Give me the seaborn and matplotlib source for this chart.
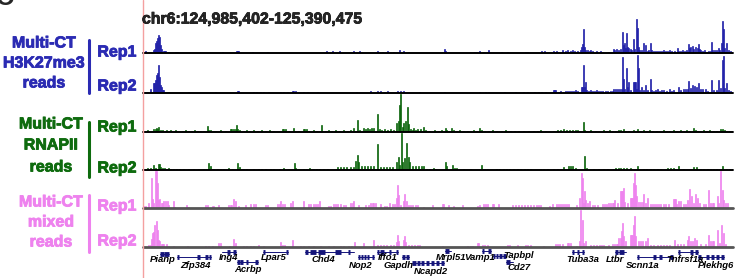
import numpy as np
import pandas as pd
import matplotlib.pyplot as plt
import matplotlib.patheffects as pe
import seaborn as sns

sns.set_style("white")
plt.rcParams['font.family'] = ['Liberation Sans', 'DejaVu Sans']

# genomic window, split into 590 coverage bins
CHROM = "chr6"
START = 124985402
END = 125390475
NBINS = 590
BIN = (END - START) / NBINS

# coverage tracks: bin index -> signal
h3_rep1_pos = [0, 2, 7, 10, 11, 12, 13, 14, 15, 16, 17, 18, 20, 21, 22, 24, 25, 32, 33, 34,
               79, 93, 94, 95, 109, 124, 183, 189, 196, 210, 216, 218, 234, 239, 244, 250, 256, 260, 265,
               301, 302, 331, 333, 336, 340, 345, 358, 364, 382, 384, 398, 401, 410, 412, 413, 419, 422,
               424, 427, 429, 431, 434, 437, 438, 439, 440, 441, 442, 444, 446, 447, 449, 453, 457, 459,
               465, 470, 471, 473, 475, 477, 479, 480, 481, 482, 483, 484, 485, 487, 488, 490, 491, 493,
               494, 495, 496, 498, 500, 502, 504, 505, 507, 508, 510, 512, 514, 516, 518, 520, 522, 524,
               526, 528, 531, 534, 535, 537, 539, 541, 543, 545, 546, 547, 549, 550, 552, 554, 555, 556,
               557, 559, 561, 563, 565, 567, 568, 569, 571, 573, 575, 576, 578, 579, 580, 581, 583, 585,
               587, 589]
h3_rep1_val = [1, 2, 1, 3, 4, 10, 12, 15, 18, 16, 8, 4, 2, 2, 2, 1, 1, 1, 1, 1,
               1, 2, 2, 2, 1, 1, 2, 2, 2, 2, 2, 1, 2, 1, 2, 1, 3, 2, 1,
               4, 2, 1, 1, 2, 1, 3, 1, 1, 1, 1, 2, 2, 2, 1, 2, 3, 2,
               3, 2, 3, 2, 2, 3, 6, 9, 24, 6, 3, 3, 2, 3, 2, 2, 2, 1,
               1, 4, 3, 4, 3, 4, 21, 8, 10, 5, 20, 6, 5, 4, 3, 14, 4, 34,
               25, 6, 3, 3, 10, 8, 2, 3, 10, 3, 2, 2, 2, 2, 2, 3, 2, 2,
               3, 2, 2, 5, 2, 2, 3, 2, 3, 9, 5, 6, 7, 4, 6, 5, 9, 4,
               3, 2, 3, 1, 2, 2, 11, 3, 3, 3, 5, 3, 10, 32, 24, 5, 10, 3,
               2, 1]

h3_rep2_pos = [0, 4, 7, 10, 11, 12, 13, 14, 15, 16, 17, 18, 19, 20, 22, 24, 25, 45, 72, 94, 95,
               110, 113, 117, 120, 125, 137, 140, 144, 149, 150, 152, 160, 164, 174, 213, 227, 234,
               237, 241, 244, 254, 257, 260, 276, 301, 336, 342, 345, 361, 372, 380, 384, 391, 395,
               398, 402, 410, 411, 412, 415, 417, 420, 422, 424, 426, 428, 430, 432, 434, 438, 439,
               440, 441, 442, 443, 445, 447, 449, 451, 453, 455, 457, 459, 462, 464, 467, 469, 470,
               472, 474, 476, 478, 479, 480, 481, 483, 484, 485, 487, 490, 491, 492, 493, 494, 495,
               496, 498, 500, 502, 504, 507, 508, 510, 512, 514, 516, 518, 520, 523, 526, 528, 530,
               535, 537, 540, 542, 544, 545, 547, 549, 551, 553, 555, 557, 559, 562, 564, 568, 570,
               573, 575, 577, 579, 580, 581, 583, 585, 587, 589]
h3_rep2_val = [1, 1, 4, 10, 10, 13, 18, 20, 28, 16, 8, 6, 3, 3, 1, 1, 1, 1, 1, 2, 2,
               1, 1, 1, 1, 1, 1, 1, 1, 2, 2, 2, 1, 1, 1, 1, 2, 2,
               2, 1, 2, 2, 2, 2, 1, 1, 1, 1, 1, 1, 1, 1, 1, 1, 1,
               1, 1, 3, 3, 3, 1, 2, 1, 2, 2, 2, 2, 2, 3, 2, 6, 6,
               28, 6, 11, 3, 2, 3, 2, 2, 3, 2, 2, 2, 2, 2, 2, 2, 4,
               4, 4, 4, 4, 36, 14, 4, 25, 6, 11, 3, 11, 11, 11, 4, 38, 25,
               3, 6, 3, 8, 3, 14, 3, 2, 3, 4, 2, 3, 3, 2, 4, 2, 3,
               6, 3, 4, 4, 4, 12, 5, 8, 7, 6, 10, 4, 4, 4, 2, 13, 3,
               3, 13, 5, 33, 37, 5, 10, 3, 2, 1]

pol_rep1_pos = [4, 8, 10, 12, 13, 14, 15, 17, 19, 21, 23, 25, 27, 32, 39, 42, 45, 48, 51, 54, 57,
                60, 64, 65, 67, 70, 72, 77, 82, 87, 88, 90, 92, 93, 94, 96, 100, 103, 106, 110, 114,
                118, 122, 126, 130, 139, 140, 142, 145, 150, 155, 160, 161, 163, 165, 170, 173, 178,
                182, 185, 188, 192, 196, 200, 204, 207, 210, 212, 214, 216, 220, 222, 224, 226, 228,
                230, 234, 236, 238, 241, 244, 247, 250, 253, 255, 256, 257, 259, 260, 262, 264, 265,
                267, 269, 270, 272, 274, 277, 280, 282, 286, 291, 295, 298, 302, 303, 305, 308, 310,
                313, 316, 320, 324, 327, 330, 333, 336, 338, 341, 345, 349, 353, 358, 362, 367, 371,
                375, 380, 385, 390, 394, 397, 402, 410, 414, 417, 420, 423, 426, 429, 432, 434, 437,
                440, 441, 443, 447, 452, 460, 463, 466, 469, 472, 475, 477, 480, 482, 485, 490, 494,
                497, 500, 503, 506, 509, 513, 520, 523, 526, 530, 533, 537, 540, 543, 546, 550, 552,
                554, 557, 560, 563, 566, 570, 573, 577, 579, 581, 583, 586, 588]
pol_rep1_val = [2, 1, 3, 3, 4, 3, 5, 2, 2, 1, 2, 1, 2, 2, 1, 2, 1, 1, 2, 1, 1,
                1, 6, 2, 2, 1, 1, 2, 1, 3, 3, 3, 3, 7, 3, 2, 1, 2, 1, 2, 1,
                2, 1, 2, 1, 3, 3, 3, 1, 4, 1, 3, 3, 3, 1, 2, 1, 7,
                1, 2, 1, 2, 1, 2, 1, 2, 4, 1, 12, 2, 4, 3, 4, 3, 4,
                4, 18, 3, 2, 3, 2, 3, 2, 9, 11, 27, 38, 5, 9, 11, 25, 8,
                3, 2, 4, 2, 3, 3, 5, 2, 1, 2, 1, 2, 4, 2, 1, 4, 2,
                1, 2, 1, 1, 1, 2, 1, 4, 2, 1, 1, 2, 1, 1, 2, 1, 1,
                1, 1, 1, 1, 1, 2, 1, 1, 2, 2, 3, 2, 2, 2, 2, 2, 1,
                10, 2, 1, 2, 1, 2, 1, 2, 1, 1, 2, 2, 3, 1, 1, 2, 3,
                1, 2, 1, 2, 1, 1, 2, 1, 1, 2, 1, 2, 1, 2, 1, 4, 2,
                1, 1, 2, 1, 2, 1, 1, 3, 3, 2, 1, 1, 1]

pol_rep2_pos = [4, 7, 10, 12, 15, 16, 17, 19, 21, 23, 25, 27, 30, 33, 36, 40, 45, 50, 55, 60, 65,
                67, 70, 74, 77, 80, 85, 89, 94, 96, 100, 103, 110, 115, 118, 122, 127, 130, 136, 140,
                145, 151, 152, 155, 160, 163, 166, 170, 173, 176, 180, 184, 194, 197, 200, 203, 207,
                210, 212, 214, 215, 218, 221, 224, 227, 230, 234, 237, 240, 243, 246, 249, 253, 255,
                256, 258, 259, 261, 263, 265, 266, 269, 272, 275, 278, 280, 283, 286, 290, 292, 302,
                303, 309, 311, 313, 320, 327, 338, 341, 344, 353, 356, 360, 363, 366, 370, 374, 377,
                381, 384, 387, 397, 400, 404, 410, 414, 417, 420, 425, 427, 429, 432, 441, 443, 450,
                455, 460, 464, 470, 472, 475, 477, 480, 483, 487, 494, 500, 503, 507, 510, 514, 517,
                524, 527, 530, 535, 540, 547, 550, 553, 557, 560, 564, 567, 570, 573, 579, 583, 586,
                589]
pol_rep2_val = [2, 2, 5, 2, 6, 6, 3, 2, 2, 1, 2, 1, 1, 1, 1, 1, 1, 1, 1, 1, 7,
                4, 1, 1, 1, 1, 2, 1, 7, 3, 1, 1, 1, 1, 1, 1, 1, 1, 1, 2,
                1, 7, 2, 1, 1, 1, 2, 1, 1, 1, 1, 1, 3, 3, 3, 3, 3,
                3, 9, 15, 8, 4, 4, 4, 4, 4, 26, 3, 3, 3, 3, 3, 8, 13,
                5, 37, 8, 12, 27, 13, 8, 4, 4, 4, 4, 4, 1, 1, 2, 1, 8,
                4, 5, 2, 2, 1, 1, 5, 1, 1, 1, 1, 1, 1, 1, 1, 1, 1,
                1, 1, 1, 1, 1, 1, 1, 1, 1, 3, 4, 4, 4, 2, 14, 2, 1,
                1, 1, 1, 1, 2, 2, 2, 2, 2, 2, 4, 1, 1, 1, 1, 1, 1,
                2, 2, 2, 4, 1, 1, 3, 3, 1, 1, 1, 1, 1, 1, 4, 1, 1,
                1]

mix_rep1_pos = [0, 2, 5, 8, 9, 10, 12, 13, 14, 15, 16, 18, 19, 20, 22, 24, 25, 30, 31, 43, 45, 62,
                64, 69, 70, 75, 85, 87, 88, 90, 92, 95, 102, 107, 110, 112, 122, 124, 134, 136, 137,
                139, 141, 147, 149, 160, 165, 167, 170, 172, 174, 176, 185, 187, 190, 192, 194, 197,
                200, 202, 207, 209, 210, 215, 222, 225, 227, 229, 230, 232, 237, 241, 243, 246, 249,
                251, 253, 254, 255, 257, 260, 261, 263, 265, 267, 269, 272, 274, 280, 289, 299, 300,
                305, 310, 319, 334, 336, 340, 342, 344, 349, 350, 355, 369, 372, 375, 378, 381, 384,
                387, 390, 393, 395, 397, 406, 409, 413, 415, 417, 419, 421, 423, 425, 433, 436, 438,
                439, 440, 441, 442, 444, 446, 449, 451, 454, 459, 461, 463, 465, 467, 469, 470, 471,
                474, 477, 478, 479, 480, 481, 484, 487, 488, 489, 490, 491, 492, 493, 495, 497, 499,
                500, 502, 504, 507, 509, 511, 513, 515, 517, 520, 522, 525, 530, 531, 532, 533, 535,
                537, 540, 542, 544, 546, 548, 550, 552, 554, 556, 560, 562, 565, 567, 569, 570, 574,
                575, 577, 579, 580, 582, 584]
mix_rep1_val = [2, 2, 5, 30, 9, 5, 37, 37, 25, 8, 9, 5, 5, 7, 7, 7, 3, 7, 1, 3, 1, 3,
                3, 2, 2, 3, 3, 3, 3, 9, 7, 2, 3, 4, 4, 4, 3, 3, 4, 4, 7,
                4, 4, 5, 7, 7, 4, 4, 4, 4, 4, 7, 2, 2, 4, 4, 4, 4,
                3, 3, 5, 5, 7, 3, 3, 3, 5, 5, 5, 5, 4, 2, 2, 5, 4,
                4, 10, 23, 13, 3, 7, 14, 7, 3, 3, 3, 3, 3, 1, 3, 4, 4,
                3, 2, 3, 2, 3, 4, 4, 4, 4, 4, 4, 3, 3, 3, 3, 3, 3,
                3, 3, 3, 3, 3, 2, 4, 4, 4, 4, 4, 4, 4, 4, 3, 10, 35,
                30, 5, 17, 8, 5, 7, 3, 3, 3, 4, 4, 4, 5, 5, 5, 5, 8,
                5, 17, 17, 17, 20, 6, 5, 10, 10, 10, 25, 35, 23, 12, 6, 6, 6,
                14, 5, 10, 4, 4, 4, 4, 4, 4, 4, 4, 4, 9, 9, 9, 4, 7,
                7, 4, 4, 8, 19, 12, 5, 14, 10, 5, 4, 4, 18, 5, 5, 5, 12,
                5, 37, 18, 8, 5, 5]

mix_rep2_pos = [0, 5, 7, 8, 9, 10, 11, 13, 14, 15, 16, 18, 19, 20, 23, 25, 30, 44, 62, 65, 69, 75,
                77, 86, 90, 92, 100, 103, 107, 110, 115, 120, 137, 139, 141, 149, 157, 160, 165, 170,
                177, 185, 190, 197, 200, 205, 208, 211, 220, 230, 234, 237, 240, 243, 247, 250, 253,
                254, 255, 260, 261, 262, 265, 268, 271, 274, 276, 299, 324, 327, 329, 334, 335, 339,
                341, 344, 364, 366, 374, 382, 384, 387, 400, 412, 414, 416, 419, 424, 425, 427, 433,
                436, 437, 439, 440, 442, 447, 450, 453, 456, 458, 460, 465, 469, 471, 473, 474, 475,
                477, 478, 479, 480, 482, 487, 488, 489, 490, 491, 492, 495, 497, 499, 502, 504, 507,
                510, 514, 517, 520, 523, 526, 531, 534, 537, 540, 544, 545, 547, 549, 551, 553, 557,
                562, 565, 567, 569, 570, 574, 576, 578, 580, 582]
mix_rep2_val = [1, 2, 2, 8, 14, 15, 22, 26, 17, 7, 6, 3, 3, 3, 3, 1, 1, 1, 1, 1, 1, 4,
                4, 1, 8, 4, 1, 1, 1, 1, 2, 1, 5, 2, 2, 7, 1, 1, 1, 1,
                1, 1, 1, 1, 1, 1, 1, 5, 4, 7, 2, 2, 2, 2, 2, 2, 5,
                12, 6, 7, 11, 5, 2, 2, 2, 2, 2, 1, 1, 1, 1, 4, 4, 2,
                2, 2, 2, 2, 2, 2, 2, 2, 1, 3, 3, 3, 3, 4, 4, 4, 1,
                6, 37, 27, 4, 6, 2, 2, 2, 2, 2, 2, 2, 3, 3, 3, 3, 9,
                9, 16, 24, 11, 6, 12, 12, 12, 22, 31, 11, 6, 6, 6, 6, 9, 2,
                2, 2, 2, 2, 2, 2, 7, 3, 3, 3, 7, 11, 6, 6, 9, 7, 3,
                3, 12, 6, 6, 6, 17, 4, 22, 14, 3]

# RefSeq genes (bin coordinates)
gene_names = ["Pianp", "Zfp384", "Ing4", "Acrbp", "Lpar5", "Chd4", "Nop2", "Iffo1", "Gapdh",
              "Ncapd2", "Mrpl51", "Vamp1", "Tapbpl", "Cd27", "Tuba3a", "Ltbr", "Scnn1a",
              "Tnfrsf1a", "Plekhg6"]
gene_start = [17, 34, 79, 94, 120, 162, 215, 234, 259, 269, 302, 339, 350, 363, 429, 472, 494, 535, 555]
gene_end = [25, 67, 92, 114, 144, 210, 230, 254, 265, 300, 307, 347, 362, 369, 440, 482, 529, 554, 580]
gene_exons = [[(17, 20), (21, 25)], [(34, 35), (54, 56), (62, 64), (66, 67)], [(84, 86), (90, 92)],
              [(94, 96), (97, 99), (103, 104), (112, 114)], [(120, 121), (143, 144)],
              [(162, 164), (167, 172), (175, 181), (192, 197), (205, 206)],
              [(215, 216), (218, 219), (221, 222), (224, 225), (229, 230)],
              [(234, 235), (237, 240), (246, 247), (253, 254)], [(259, 261), (263, 265)],
              [(269, 272), (274, 276), (278, 280), (283, 285), (288, 290), (293, 295), (298, 300)],
              [(302, 305)], [(339, 340), (345, 347)], [(350, 351), (353, 354), (356, 358), (360, 362)],
              [(363, 366)], [(429, 430), (434, 435), (439, 440)], [(472, 474), (476, 480)],
              [(494, 495), (510, 512), (516, 518), (527, 529)], [(535, 536), (547, 549), (552, 554)],
              [(555, 557), (563, 565), (568, 570), (573, 575), (578, 580)]]
# layout of the gene track (pixel rows / label anchors)
gene_row = [254, 257, 252, 262, 252, 252, 257, 252, 257, 263, 251, 251, 256, 262, 252, 252, 257, 252, 257]
label_bin = [19, 52, 85, 104, 130, 180, 217, 244, 255, 287, 308, 336, 375, 376, 439, 472, 499, 541, 572]
label_row = [260, 265, 257, 269, 258, 260, 265, 257, 266, 271, 258, 258, 256, 268, 259, 259, 265, 259, 265]

W, H = 735, 278
X0, XW = 143, 590
fig = plt.figure(figsize=(W / 100, H / 100), dpi=100)


def px_axes(x, y, w, h):
    return fig.add_axes([x / W, 1 - (y + h) / H, w / W, h / H])


def gx(b):
    return START + np.asarray(b, dtype=float) * BIN


def heavy(col, w=0.6):
    return [pe.withStroke(linewidth=w, foreground=col)]


blue, green, pink = "#2020a8", "#0a640a", "#ee82ee"
tracks = [(h3_rep1_pos, h3_rep1_val, blue, 53, "black", 1.4),
          (h3_rep2_pos, h3_rep2_val, blue, 93, "black", 1.4),
          (pol_rep1_pos, pol_rep1_val, green, 132, "black", 1.4),
          (pol_rep2_pos, pol_rep2_val, green, 170, "black", 1.4),
          (mix_rep1_pos, mix_rep1_val, pink, 208, "#555555", 2.0),
          (mix_rep2_pos, mix_rep2_val, pink, 247, "#555555", 2.0)]
edges = list(gx(np.arange(NBINS + 1)))
for pos, val, col, base, bcol, blw in tracks:
    ax = px_axes(X0, base - 40, XW, 40)
    df = pd.DataFrame({"x": gx(np.array(pos) + 0.5), "w": val})
    sns.histplot(data=df, x="x", weights="w", bins=edges, color=col, alpha=1,
                 edgecolor=col, linewidth=0.5, ax=ax)
    ax.set_xlim(START, END)
    ax.set_ylim(0, 40)
    ax.axis("off")
    ax.axhline(0, color=bcol, lw=blw, clip_on=False, zorder=5)

# gene track
ga = px_axes(X0, 247, XW, 31)
ga.set_xlim(START, END)
ga.set_ylim(278, 247)
ga.axis("off")
navy = "#14147a"
for i, name in enumerate(gene_names):
    y = gene_row[i]
    ga.plot(gx([gene_start[i], gene_end[i] + 1]), [y, y], color=navy, lw=0.7, clip_on=False)
    for a, b in gene_exons[i]:
        ga.plot(gx([a, b + 1]), [y, y], color=navy, lw=3.5, solid_capstyle="butt", clip_on=False)
    ga.text(gx(label_bin[i] + 0.5), label_row[i], name, ha="center", va="center",
            fontsize=6.8, fontweight="bold", fontstyle="italic", color="black", clip_on=False)

# position line and title
fig.add_artist(plt.Line2D([X0 / W, X0 / W], [0, 1], transform=fig.transFigure,
                          color="#f4a0a0", lw=1))
fig.text(142 / W, 1 - 19 / H, f"{CHROM}:{START:,}-{END:,}", ha="left", va="center",
         fontsize=11.4, fontweight="bold", path_effects=heavy("black", 0.5))
fig.text(-4 / W, 1 - 5 / H, "C", ha="left", va="baseline", fontsize=18, fontweight="bold")

# left labels
groups = [(["Multi-CT", "H3K27me3", "reads"], [43, 63, 83], 44, (40, 93), (52, 86), "#2b2bb3"),
          (["Multi-CT", "RNAPII", "reads"], [124, 145, 167], 51, (122, 177), (127, 168), "#0e6b0e"),
          (["Multi-CT", "mixed", "reads"], [202, 222, 242], 51, (195, 252), (206, 241), "#ee82ee")]
for lines, ys, cx, bar, reps, col in groups:
    for t, y in zip(lines, ys):
        fig.text(cx / W, 1 - y / H, t, ha="center", va="center", fontsize=11.5,
                 fontweight="bold", color=col, path_effects=heavy(col))
    fig.add_artist(plt.Line2D([89 / W, 89 / W], [1 - bar[0] / H, 1 - bar[1] / H],
                              transform=fig.transFigure, color=col, lw=2.2))
    for t, y in zip(["Rep1", "Rep2"], reps):
        fig.text(117 / W, 1 - y / H, t, ha="center", va="center", fontsize=11.5,
                 fontweight="bold", color=col, path_effects=heavy(col))

fig.savefig("out.png", dpi=100)
